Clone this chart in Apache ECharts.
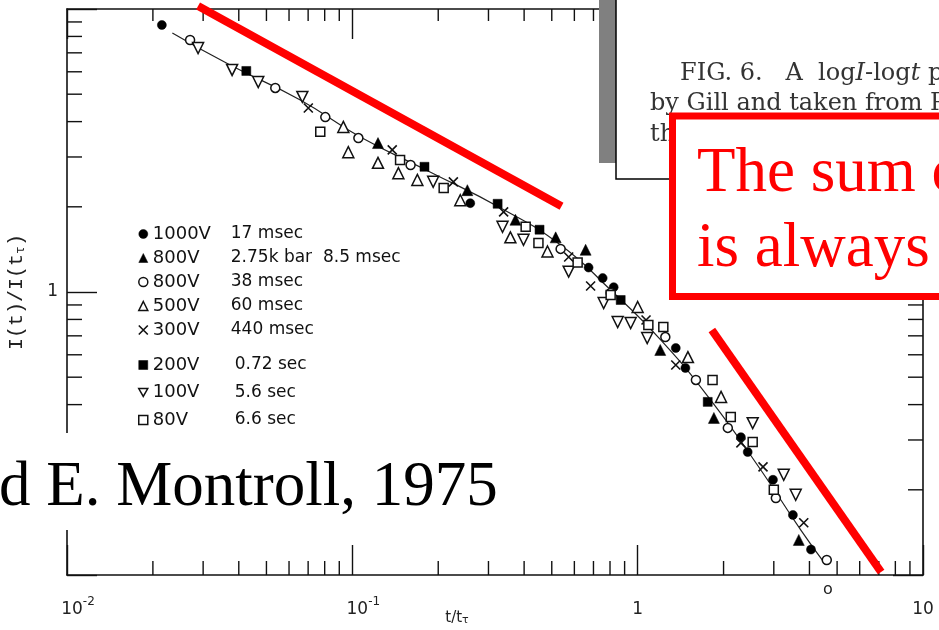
<!DOCTYPE html>
<html>
<head>
<meta charset="utf-8">
<script src="https://cdn.jsdelivr.net/npm/echarts@6/dist/echarts.min.js"></script>
<style>
  html, body { margin: 0; padding: 0; background: #fff; }
  #chart { width: 939px; height: 630px; }
</style>
</head>
<body>
<div id="chart"></div>
<script>
// Legend entries: applied voltage and transit time of each run
const voltages  = ['1000V', '800V', '800V', '500V', '300V', '200V', '100V', '80V'];
const durations = ['17 msec', '2.75k bar  8.5 msec', '38 msec', '60 msec', '440 msec', '0.72 sec', '5.6 sec', '6.6 sec'];

// Normalised transient current I(t)/I(t_T) versus t/t_T, one array per run
const run1000V = [[0.0215, 8.78], [0.259, 2.06], [0.673, 1.22], [0.754, 1.12], [0.824, 1.04], [1.36, 0.634],
                  [1.47, 0.539], [2.30, 0.307], [2.43, 0.272], [2.98, 0.217], [3.50, 0.163], [4.05, 0.123]];
const run800Vp = [[0.123, 3.36], [0.253, 2.29], [0.373, 1.80], [0.516, 1.56], [0.657, 1.41], [1.20, 0.624],
                  [1.85, 0.359], [3.67, 0.133]];
const run800V  = [[0.0270, 7.77], [0.0537, 5.26], [0.0804, 4.15], [0.105, 3.50], [0.160, 2.81], [0.537, 1.42],
                  [0.804, 0.992], [1.25, 0.693], [1.60, 0.489], [2.07, 0.331], [3.05, 0.187], [4.60, 0.113]];
const run500V  = [[0.0930, 3.83], [0.0968, 3.12], [0.123, 2.86], [0.145, 2.63], [0.169, 2.49], [0.239, 2.11],
                  [0.358, 1.56], [0.483, 1.39], [1.00, 0.885], [1.50, 0.589], [1.96, 0.426]];
const run300V  = [[0.0701, 4.47], [0.138, 3.18], [0.226, 2.45], [0.339, 1.92], [0.573, 1.33], [0.684, 1.05],
                  [1.07, 0.796], [1.36, 0.552], [2.30, 0.293], [2.75, 0.241], [3.82, 0.153]];
const run200V  = [[0.0425, 6.04], [0.179, 2.77], [0.323, 2.05], [0.453, 1.66], [0.872, 0.937], [1.76, 0.409]];
const run100V  = [[0.0288, 7.28], [0.0379, 6.09], [0.0468, 5.52], [0.0668, 4.89], [0.192, 2.45], [0.336, 1.70],
                  [0.398, 1.53], [0.573, 1.18], [0.760, 0.914], [0.851, 0.783], [0.945, 0.777], [1.08, 0.688],
                  [2.53, 0.344], [3.25, 0.226], [3.58, 0.192]];
const run80V   = [[0.0772, 3.68], [0.147, 2.93], [0.209, 2.33], [0.405, 1.70], [0.449, 1.49], [0.616, 1.27],
                  [0.804, 0.976], [1.09, 0.765], [1.23, 0.752], [1.83, 0.489], [2.12, 0.362], [2.53, 0.295],
                  [3.00, 0.200]];

// Universal curve drawn through the points
const universalCurve = [[0.0234, 8.23], [0.0373, 6.34], [0.0657, 4.77], [0.1067, 3.53], [0.188, 2.65],
                        [0.331, 1.98], [0.537, 1.466], [0.804, 1.016], [1.204, 0.677], [1.803, 0.415],
                        [2.702, 0.235], [3.732, 0.144], [4.566, 0.1085]];

// Power-law guides: slope -(1-a) before t_T and -(1+a) after it
const earlySlope = [[0.0288, 10.25], [0.541, 2.01]];
const lateSlope  = [[1.82, 0.734], [7.13, 0.1025]];

// Axis tick values and labels
const xMajorTicks = [0.01, 0.1, 1, 10];
const xTickText   = [['10', '-2'], ['10', '-1'], ['1', ''], ['10', '']];
const xMinorTicks = [0.02, 0.03, 0.04, 0.05, 0.06, 0.07, 0.08, 0.09,
                     0.2, 0.3, 0.4, 0.5, 0.6, 0.7, 0.8, 0.9,
                     2, 3, 4, 5, 6, 7, 8, 9];
const yMinorTicks = [0.2, 0.3, 0.4, 0.5, 0.6, 0.7, 0.8, 0.9,
                     2, 3, 4, 5, 6, 7, 8, 9];

const INK = '#111';
const crossPath = 'path://M0,0L10,10M10,0L0,10';
const downTriPath = 'path://M0,0L10,0L5,8.7Z';

const runs = [run1000V, run800Vp, run800V, run500V, run300V, run200V, run100V, run80V];
const markerDefs = [
  { symbol: 'circle',   size: 9,  open: false },
  { symbol: 'triangle', size: 11, open: false },
  { symbol: 'circle',   size: 9,  open: true },
  { symbol: 'triangle', size: 11, open: true },
  { symbol: crossPath,  size: 9,  open: true, cross: true },
  { symbol: 'rect',     size: 9,  open: false },
  { symbol: downTriPath, size: 11, open: true },
  { symbol: 'rect',     size: 9,  open: true }
];
const seriesNames = voltages.map((v, i) => v + ' ' + durations[i]);

function markerStyle(def) {
  if (def.cross) return { color: 'rgba(0,0,0,0)', borderColor: INK, borderWidth: 1.6, opacity: 1 };
  if (def.open) return { color: '#fff', borderColor: INK, borderWidth: 1.5, opacity: 1 };
  return { color: '#000', borderColor: '#000', borderWidth: 0.5, opacity: 1 };
}

const scatterSeries = runs.map((data, i) => ({
  name: seriesNames[i],
  type: 'scatter',
  data: data,
  symbol: markerDefs[i].symbol,
  symbolSize: markerDefs[i].size,
  itemStyle: markerStyle(markerDefs[i]),
  z: 5
}));

function legendItems(from, to) {
  const out = [];
  for (let i = from; i < to; i++) {
    out.push({ name: seriesNames[i], icon: markerDefs[i].symbol, itemStyle: markerStyle(markerDefs[i]) });
  }
  return out;
}
function legendFormatter(name) {
  const i = seriesNames.indexOf(name);
  return '{a|' + voltages[i] + '}{b|' + durations[i] + '}';
}
const legendText = (w) => ({
  color: INK,
  fontFamily: 'DejaVu Sans',
  fontSize: 18,
  lineHeight: 20,
  rich: {
    a: { width: w, fontFamily: 'DejaVu Sans', fontSize: 18, color: INK },
    b: { fontFamily: 'DejaVu Sans', fontSize: 17, color: INK }
  }
});

// Minor ticks on all four sides of the frame
function xMinorTick(params, api) {
  const cs = params.coordSys;
  const px = api.coord([api.value(0), 1])[0];
  const bottom = cs.y + cs.height, top = cs.y;
  const st = { stroke: INK, lineWidth: 1.4 };
  return { type: 'group', children: [
    { type: 'line', shape: { x1: px, y1: bottom, x2: px, y2: bottom - 14 }, style: st },
    { type: 'line', shape: { x1: px, y1: top, x2: px, y2: top + 12 }, style: st }
  ]};
}
function yMinorTick(params, api) {
  const cs = params.coordSys;
  const py = api.coord([1, api.value(1)])[1];
  const left = cs.x, right = cs.x + cs.width;
  const st = { stroke: INK, lineWidth: 1.4 };
  return { type: 'group', children: [
    { type: 'line', shape: { x1: left, y1: py, x2: left + 15, y2: py }, style: st },
    { type: 'line', shape: { x1: right, y1: py, x2: right - 15, y2: py }, style: st }
  ]};
}

const tickLabelRich = {
  b: { fontFamily: 'DejaVu Sans', fontSize: 17, color: '#222', lineHeight: 22, verticalAlign: 'bottom' },
  p: { fontFamily: 'DejaVu Sans', fontSize: 17, color: '#222', lineHeight: 22, verticalAlign: 'bottom', padding: [0, 0, 0, 22] },
  s: { fontFamily: 'DejaVu Sans', fontSize: 12, color: '#222', lineHeight: 12, verticalAlign: 'top' }
};
function xLabel(v) {
  const k = xMajorTicks.findIndex(t => Math.abs(Math.log10(t) - Math.log10(v)) < 1e-6);
  if (k < 0) return '';
  const [base, sup] = xTickText[k];
  return sup ? '{p|' + base + '}{s|' + sup + '}' : '{b|' + base + '}';
}

const frameLine = { lineStyle: { color: INK, width: 1.6 } };
const majorTick = { inside: true, length: 30, lineStyle: { color: INK, width: 1.4 } };

const option = {
  animation: false,
  backgroundColor: '#fff',
  grid: { left: 67, right: 16, top: 9, bottom: 55, outerBoundsMode: 'none', containLabel: false },
  xAxis: [
    {
      type: 'log', logBase: 10, min: 0.01, max: 10, position: 'bottom',
      axisLine: frameLine, axisTick: majorTick, splitLine: { show: false }, minorTick: { show: false },
      axisLabel: { margin: 21, formatter: xLabel, rich: tickLabelRich, color: '#222' },
      name: 't/t{sub|τ}', nameLocation: 'middle', nameGap: 36, nameMoveOverlap: false,
      nameTextStyle: {
        fontFamily: 'DejaVu Sans', fontSize: 15, color: '#222', padding: [0, 76, 0, 0],
        rich: { sub: { fontSize: 11, color: '#222', verticalAlign: 'bottom' } }
      }
    },
    {
      type: 'log', logBase: 10, min: 0.01, max: 10, position: 'top',
      axisLine: frameLine, axisTick: majorTick, splitLine: { show: false },
      axisLabel: { show: false }
    }
  ],
  yAxis: [
    {
      type: 'log', logBase: 10, min: 0.1, max: 10, position: 'left',
      axisLine: frameLine, axisTick: majorTick, splitLine: { show: false },
      axisLabel: {
        margin: 9, fontFamily: 'DejaVu Sans', fontSize: 17, color: '#222',
        formatter: v => (Math.abs(Math.log10(v)) < 1e-6 ? '1' : '')
      },
      name: 'I(t)/I(t{sub|τ})', nameLocation: 'middle', nameRotate: 90, nameGap: 40, nameMoveOverlap: false,
      nameTextStyle: {
        fontFamily: 'Liberation Mono', fontSize: 20, color: '#222',
        rich: { sub: { fontFamily: 'Liberation Mono', fontSize: 13, color: '#222', verticalAlign: 'bottom' } }
      }
    },
    {
      type: 'log', logBase: 10, min: 0.1, max: 10, position: 'right',
      axisLine: frameLine, axisTick: majorTick, splitLine: { show: false },
      axisLabel: { show: false }
    }
  ],
  legend: [
    {
      data: legendItems(0, 5), orient: 'vertical', left: 133, top: 219,
      itemWidth: 9, itemHeight: 9, itemGap: 4, selectedMode: false,
      formatter: legendFormatter, textStyle: legendText(78)
    },
    {
      data: legendItems(5, 8), orient: 'vertical', left: 133, top: 350,
      itemWidth: 9, itemHeight: 9, itemGap: 7.5, selectedMode: false,
      formatter: legendFormatter, textStyle: legendText(82)
    }
  ],
  series: [
    {
      type: 'custom', renderItem: xMinorTick, silent: true, z: 1,
      data: xMinorTicks.map(v => [v, 1])
    },
    {
      type: 'custom', renderItem: yMinorTick, silent: true, z: 1,
      data: yMinorTicks.map(v => [1, v])
    },
    {
      type: 'line', data: universalCurve, smooth: true, symbol: 'none', silent: true, z: 3,
      lineStyle: { color: '#222', width: 1.2 }
    },
    ...scatterSeries,
    {
      type: 'line', data: earlySlope, symbol: 'none', clip: false, silent: true, z: 8,
      lineStyle: { color: '#ff0000', width: 8, cap: 'butt' }
    },
    {
      type: 'line', data: lateSlope, symbol: 'none', clip: false, silent: true, z: 8,
      lineStyle: { color: '#ff0000', width: 8, cap: 'butt' }
    }
  ],
  graphic: {
    elements: [
      // figure caption pasted over the upper right corner
      { type: 'rect', z: 100, shape: { x: 599, y: 0, width: 17, height: 163 }, style: { fill: '#808080' } },
      { type: 'rect', z: 101, shape: { x: 616, y: -5, width: 340, height: 184 },
        style: { fill: '#fff', stroke: '#000', lineWidth: 1.5 } },
      { type: 'text', z: 102, style: {
          x: 680, y: 74, text: 'FIG. 6.   A  log{i|I}-log{i|t} plot of', textVerticalAlign: 'middle',
          font: '24px "DejaVu Serif"', fill: '#333',
          rich: { i: { fontStyle: 'italic', font: 'italic 24px "DejaVu Serif"', fill: '#333' } } } },
      { type: 'text', z: 102, style: {
          x: 650, y: 104, text: 'by Gill and taken from Ref.', textVerticalAlign: 'middle',
          font: '24px "DejaVu Serif"', fill: '#333' } },
      { type: 'text', z: 102, style: {
          x: 650, y: 135, text: 'the', textVerticalAlign: 'middle',
          font: '24px "DejaVu Serif"', fill: '#333' } },
      // red call-out box
      { type: 'rect', z: 103, shape: { x: 672.5, y: 116, width: 300, height: 180.5 },
        style: { fill: '#fff', stroke: '#ff0000', lineWidth: 7 } },
      { type: 'text', z: 104, style: {
          x: 697, y: 174, text: 'The sum of', textVerticalAlign: 'middle',
          font: '63px "Liberation Serif"', fill: '#ff0000' } },
      { type: 'text', z: 104, style: {
          x: 697, y: 249, text: 'is always', textVerticalAlign: 'middle',
          font: '63px "Liberation Serif"', fill: '#ff0000' } },
      // citation line
      { type: 'rect', z: 105, shape: { x: 0, y: 433, width: 500, height: 97 }, style: { fill: '#fff' } },
      { type: 'text', z: 106, style: {
          x: -1, y: 488, text: 'd E. Montroll, 1975', textVerticalAlign: 'middle',
          font: '63px "Liberation Serif"', fill: '#000' } },
      { type: 'text', z: 106, style: {
          x: 828, y: 590, text: 'o', textAlign: 'center', textVerticalAlign: 'middle',
          font: '16px "DejaVu Sans"', fill: '#222' } }
    ]
  }
};

const chart = echarts.init(document.getElementById('chart'), null, { renderer: 'canvas' });
chart.setOption(option);
</script>
</body>
</html>
